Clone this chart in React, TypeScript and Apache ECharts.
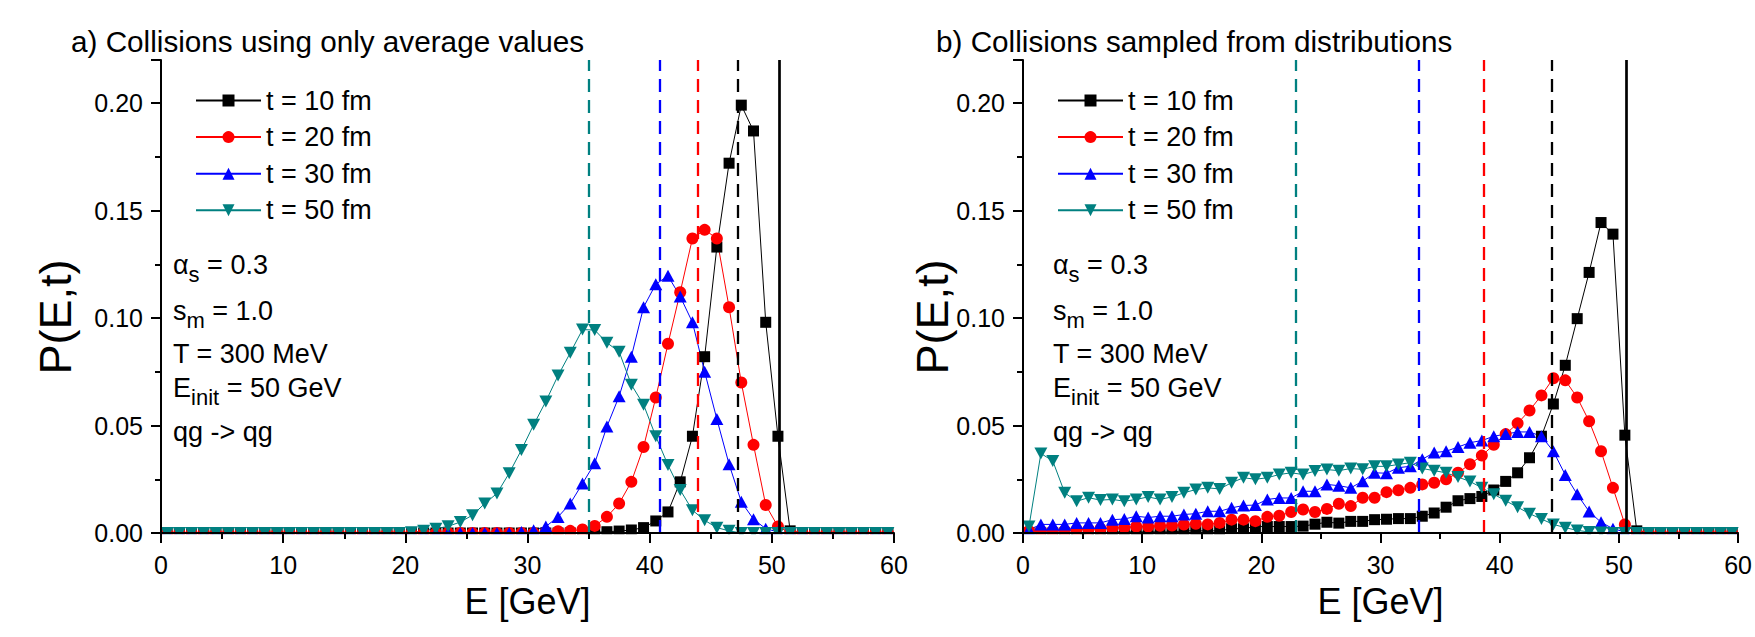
import React, { useEffect, useRef } from "react";
import * as echarts from "echarts";

// ---------- data ----------
const energies = [
  0.5, 1.5, 2.5, 3.5, 4.5, 5.5, 6.5, 7.5, 8.5, 9.5,
  10.5, 11.5, 12.5, 13.5, 14.5, 15.5, 16.5, 17.5, 18.5, 19.5,
  20.5, 21.5, 22.5, 23.5, 24.5, 25.5, 26.5, 27.5, 28.5, 29.5,
  30.5, 31.5, 32.5, 33.5, 34.5, 35.5, 36.5, 37.5, 38.5, 39.5,
  40.5, 41.5, 42.5, 43.5, 44.5, 45.5, 46.5, 47.5, 48.5, 49.5,
  50.5, 51.5, 52.5, 53.5, 54.5, 55.5, 56.5, 57.5, 58.5, 59.5,
];

const seriesNames = ["t = 10 fm", "t = 20 fm", "t = 30 fm", "t = 50 fm"];

// a) Collisions using only average values
const avgT10 = [
  0, 0, 0, 0, 0, 0, 0, 0, 0, 0,
  0, 0, 0, 0, 0, 0, 0, 0, 0, 0,
  0, 0, 0, 0, 0, 0, 0, 0, 0, 0,
  0, 0, 0, 0, 0, 0.0003, 0.0006, 0.0009, 0.0014, 0.0025,
  0.0056, 0.0098, 0.0238, 0.045, 0.082, 0.133, 0.172, 0.199, 0.187, 0.098,
  0.045, 0.001, 0, 0, 0, 0, 0, 0, 0, 0,
];
const avgT20 = [
  0, 0, 0, 0, 0, 0, 0, 0, 0, 0,
  0, 0, 0, 0, 0, 0, 0, 0, 0, 0,
  0, 0, 0, 0, 0, 0, 0, 0, 0, 0,
  0, 0.0004, 0.0008, 0.001, 0.0016, 0.0033, 0.0075, 0.0137, 0.0238, 0.04,
  0.063, 0.088, 0.112, 0.137, 0.141, 0.137, 0.105, 0.07, 0.041, 0.013,
  0.003, 0, 0, 0, 0, 0, 0, 0, 0, 0,
];
const avgT30 = [
  0, 0, 0, 0, 0, 0, 0, 0, 0, 0,
  0, 0, 0, 0, 0, 0, 0, 0, 0, 0,
  0, 0, 0, 0, 0, 0, 0, 0, 0, 0.0005,
  0.0013, 0.003, 0.0075, 0.0137, 0.023, 0.0324, 0.0495, 0.0636, 0.082, 0.105,
  0.1157, 0.1196, 0.11, 0.098, 0.075, 0.053, 0.032, 0.0145, 0.0064, 0.002,
  0.0005, 0, 0, 0, 0, 0, 0, 0, 0, 0,
];
const avgT50 = [
  0, 0, 0, 0, 0, 0, 0, 0, 0, 0,
  0, 0, 0, 0, 0, 0, 0, 0, 0, 0,
  0.0004, 0.001, 0.002, 0.0031, 0.0051, 0.0083, 0.0137, 0.0184, 0.0278, 0.0386,
  0.0503, 0.0612, 0.0732, 0.0838, 0.0946, 0.0944, 0.0885, 0.0843, 0.069, 0.0597,
  0.045, 0.0316, 0.02, 0.0106, 0.0059, 0.0025, 0.001, 0, 0, 0,
  0, 0, 0, 0, 0, 0, 0, 0, 0, 0,
];

// b) Collisions sampled from distributions
const smpT10 = [
  0, 0, 0, 0, 0, 0, 0, 0.0005, 0.0005, 0.0005,
  0.0005, 0.0005, 0.0005, 0.001, 0.001, 0.001, 0.001, 0.002, 0.002, 0.003,
  0.003, 0.003, 0.003, 0.0032, 0.0041, 0.005, 0.0046, 0.0054, 0.0054, 0.0062,
  0.0064, 0.0067, 0.0067, 0.0078, 0.0093, 0.012, 0.015, 0.016, 0.017, 0.02,
  0.024, 0.028, 0.035, 0.045, 0.06, 0.078, 0.0997, 0.1212, 0.1444, 0.139,
  0.0455, 0.001, 0, 0, 0, 0, 0, 0, 0, 0,
];
const smpT20 = [
  0.001, 0.001, 0.001, 0.0012, 0.0015, 0.0017, 0.002, 0.0023, 0.0025, 0.003,
  0.003, 0.0034, 0.0035, 0.0039, 0.0043, 0.004, 0.0047, 0.0062, 0.0062, 0.0055,
  0.0075, 0.008, 0.0098, 0.0109, 0.0098, 0.0112, 0.0136, 0.0125, 0.0164, 0.0164,
  0.019, 0.0199, 0.021, 0.0226, 0.0234, 0.025, 0.028, 0.032, 0.036, 0.041,
  0.046, 0.051, 0.057, 0.064, 0.072, 0.071, 0.063, 0.052, 0.038, 0.021,
  0.004, 0, 0, 0, 0, 0, 0, 0, 0, 0,
];
const smpT30 = [
  0.0015, 0.004, 0.004, 0.004, 0.0047, 0.0047, 0.0047, 0.0062, 0.0065, 0.0078,
  0.0072, 0.0078, 0.0078, 0.0086, 0.009, 0.0101, 0.0101, 0.0117, 0.0128, 0.013,
  0.0156, 0.0163, 0.0163, 0.0194, 0.0194, 0.0226, 0.022, 0.021, 0.0241, 0.028,
  0.0278, 0.0304, 0.031, 0.0343, 0.0374, 0.038, 0.04, 0.042, 0.043, 0.045,
  0.046, 0.047, 0.047, 0.045, 0.038, 0.027, 0.018, 0.01, 0.005, 0.002,
  0.0005, 0, 0, 0, 0, 0, 0, 0, 0, 0,
];
const smpT50 = [
  0.003, 0.037, 0.0335, 0.0187, 0.0148, 0.0164, 0.0153, 0.0156, 0.0148, 0.0156,
  0.0168, 0.0156, 0.0168, 0.0187, 0.0202, 0.021, 0.0205, 0.0234, 0.0257, 0.025,
  0.0257, 0.0272, 0.028, 0.0272, 0.0288, 0.0295, 0.029, 0.03, 0.0296, 0.031,
  0.031, 0.0319, 0.0327, 0.03, 0.029, 0.028, 0.026, 0.024, 0.021, 0.018,
  0.015, 0.012, 0.009, 0.0065, 0.004, 0.0025, 0.0012, 0.0005, 0.0002, 0,
  0, 0, 0, 0, 0, 0, 0, 0, 0, 0,
];

// mean energies (dashed) and initial energy (solid)
const meanLinesA = [47.2, 43.9, 40.8, 35.0];
const meanLinesB = [44.4, 38.7, 33.2, 22.9];
const initEnergyLine = 50.6;

const xAxisRange = [0, 60];
const xTickStep = 10;
const yAxisRange = [0, 0.22];
const yTickStep = 0.05;

const panelTitles = [
  "a) Collisions using only average values",
  "b) Collisions sampled from distributions",
];
const xAxisTitle = "E [GeV]";
const yAxisTitle = "P(E,t)";
const paramMain = ["α", "s", "T = 300 MeV", "E", "qg -> qg"];
const paramSub = ["s", "m", "", "init", ""];
const paramRest = [" = 0.3", " = 1.0", "", " = 50 GeV", ""];

// ---------- styling ----------
const FONT = '"Liberation Sans", Arial, Helvetica, sans-serif';
const colors = ["#000000", "#ff0000", "#0000ff", "#008080"];
const symbols = [
  "rect",
  "circle",
  "path://M5,0 L10,9 L0,9 Z",
  "path://M0,0 L10,0 L5,9 Z",
];
const symbolSizes: any[] = [11, 12, [13, 12], [13, 12]];

const PANELS = [
  { left: 161, titleX: 71, paramX: 173, legendX: 190, yTitleX: 55 },
  { left: 1023, titleX: 936, paramX: 1053, legendX: 1052, yTitleX: 932 },
];
const GRID_TOP = 60;
const GRID_W = 733;
const GRID_H = 473;
const PARAM_BASELINES = [274, 320, 363, 397, 441];
const MAIN_FS = 27;
const SUB_FS = 22;
const SUB_DROP = 8;

let ctx: CanvasRenderingContext2D | null = null;
function measure(text: string, size: number): number {
  if (!ctx) ctx = document.createElement("canvas").getContext("2d");
  if (!ctx) return text.length * size * 0.55;
  ctx.font = `${size}px ${FONT}`;
  return ctx.measureText(text).width;
}

function textEl(text: string, x: number, baseline: number, size: number) {
  return {
    type: "text",
    x,
    y: baseline - 0.3465 * size,
    z: 20,
    silent: true,
    style: {
      text,
      fontSize: size,
      fontFamily: FONT,
      fill: "#000",
      align: "left",
      verticalAlign: "middle",
    },
  };
}

function buildOption() {
  const seriesData = [
    [avgT10, avgT20, avgT30, avgT50],
    [smpT10, smpT20, smpT30, smpT50],
  ];
  const means = [meanLinesA, meanLinesB];

  const grid = PANELS.map((p) => ({
    left: p.left,
    top: GRID_TOP,
    width: GRID_W,
    height: GRID_H,
    containLabel: false,
  }));

  const xAxis = PANELS.map((_, i) => ({
    type: "value",
    gridIndex: i,
    min: xAxisRange[0],
    max: xAxisRange[1],
    interval: xTickStep,
    z: 10,
    name: xAxisTitle,
    nameLocation: "middle",
    nameGap: 50,
    nameTextStyle: { fontSize: 36, color: "#000", fontFamily: FONT },
    axisLine: { show: true, onZero: false, lineStyle: { color: "#000", width: 2 } },
    axisTick: { show: true, length: 10, lineStyle: { color: "#000", width: 2 } },
    minorTick: { show: true, splitNumber: 2, length: 6, lineStyle: { color: "#000", width: 2 } },
    splitLine: { show: false },
    axisLabel: {
      fontSize: 25,
      color: "#000",
      fontFamily: FONT,
      margin: 19,
      alignMaxLabel: "center",
      alignMinLabel: "center",
    },
  }));

  const yAxis = PANELS.map((_, i) => ({
    type: "value",
    gridIndex: i,
    min: yAxisRange[0],
    max: yAxisRange[1],
    interval: yTickStep,
    z: 10,
    axisLine: { show: true, onZero: false, lineStyle: { color: "#000", width: 2 } },
    axisTick: { show: true, length: 10, lineStyle: { color: "#000", width: 2 } },
    minorTick: { show: true, splitNumber: 2, length: 6, lineStyle: { color: "#000", width: 2 } },
    splitLine: { show: false },
    axisLabel: {
      fontSize: 25,
      color: "#000",
      fontFamily: FONT,
      margin: 18,
      showMaxLabel: false,
      formatter: (v: number) => v.toFixed(2),
    },
  }));

  const series: any[] = [];
  for (let g = 0; g < 2; g++) {
    for (let s = 0; s < 4; s++) {
      const vals = seriesData[g][s];
      const markData: any[] = [
        { xAxis: means[g][s], lineStyle: { color: colors[s], type: [13, 8], width: 2.3 } },
      ];
      if (s === 0) {
        markData.push({ xAxis: initEnergyLine, lineStyle: { color: "#000", type: "solid", width: 2.7 } });
      }
      series.push({
        type: "line",
        name: seriesNames[s],
        xAxisIndex: g,
        yAxisIndex: g,
        data: energies.map((e, i) => [e, vals[i]]),
        symbol: symbols[s],
        symbolSize: symbolSizes[s],
        showSymbol: true,
        color: colors[s],
        itemStyle: { color: colors[s] },
        lineStyle: { color: colors[s], width: 1 },
        z: 2,
        markLine: {
          silent: true,
          symbol: ["none", "none"],
          label: { show: false },
          emphasis: { disabled: true },
          data: markData,
        },
      });
    }
  }

  const legend = PANELS.map((p) => ({
    orient: "vertical",
    left: p.legendX,
    top: 82,
    itemWidth: 65,
    itemHeight: 15,
    itemGap: 9.6,
    data: seriesNames,
    selectedMode: false,
    textStyle: { fontSize: 27, color: "#000", fontFamily: FONT, lineHeight: 24 },
  }));

  const graphic: any[] = [];
  PANELS.forEach((p, gi) => {
    // mask below the x axis so zero-valued markers appear clipped at the plot frame
    graphic.push({
      type: "rect",
      z: 5,
      silent: true,
      shape: { x: p.left + 1, y: GRID_TOP + GRID_H + 1.2, width: GRID_W + 4, height: 9 },
      style: { fill: "#fff" },
    });
    graphic.push({
      type: "text",
      x: p.titleX,
      y: 41,
      z: 20,
      silent: true,
      style: {
        text: panelTitles[gi],
        fontSize: 29.7,
        fontFamily: FONT,
        fill: "#000",
        align: "left",
        verticalAlign: "middle",
      },
    });
    graphic.push({
      type: "text",
      x: p.yTitleX,
      y: 317,
      rotation: Math.PI / 2,
      z: 20,
      silent: true,
      style: {
        text: yAxisTitle,
        fontSize: 45,
        fontFamily: FONT,
        fill: "#000",
        align: "center",
        verticalAlign: "middle",
      },
    });
    paramMain.forEach((m, r) => {
      let x = p.paramX;
      const b = PARAM_BASELINES[r];
      graphic.push(textEl(m, x, b, MAIN_FS));
      x += measure(m, MAIN_FS);
      if (paramSub[r]) {
        graphic.push(textEl(paramSub[r], x, b + SUB_DROP, SUB_FS));
        x += measure(paramSub[r], SUB_FS);
      }
      if (paramRest[r]) {
        graphic.push(textEl(paramRest[r], x, b, MAIN_FS));
      }
    });
  });

  return {
    animation: false,
    backgroundColor: "#ffffff",
    textStyle: { fontFamily: FONT },
    grid,
    xAxis,
    yAxis,
    legend,
    series,
    graphic,
  };
}

export default function App() {
  const ref = useRef<HTMLDivElement>(null);
  useEffect(() => {
    if (!ref.current) return;
    const chart = echarts.init(ref.current, null, { renderer: "svg" });
    chart.setOption(buildOption() as any);
    return () => chart.dispose();
  }, []);
  return (
    <div
      ref={ref}
      style={{ position: "absolute", left: 0, top: 0, width: 1755, height: 637, background: "#fff" }}
    />
  );
}
